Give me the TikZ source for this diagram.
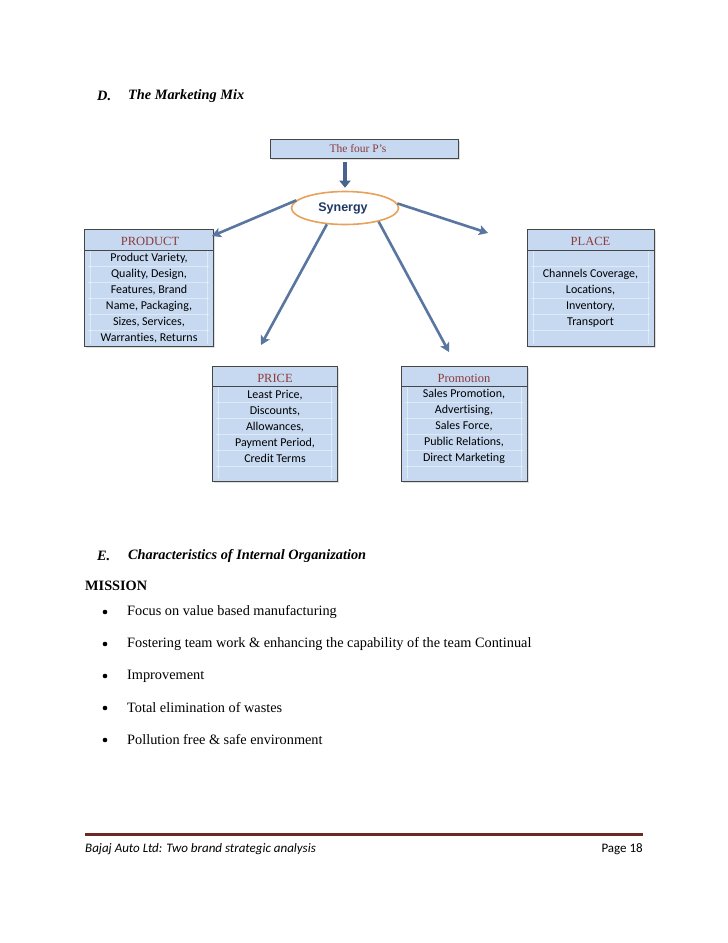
\documentclass[tikz,border=0pt]{standalone}
\usepackage{fontspec}
\setmainfont{Liberation Serif}
\newfontfamily\calibf[Ligatures=NoCommon]{Carlito}
\newfontfamily\arialf{Liberation Sans}
\usetikzlibrary{arrows.meta,shapes.geometric,shadows}
\definecolor{boxblue}{RGB}{198,217,241}
\definecolor{boxline}{RGB}{70,70,70}
\definecolor{headred}{RGB}{140,58,58}
\definecolor{arrowblue}{RGB}{88,118,160}
\definecolor{darkarrow}{RGB}{72,100,140}
\definecolor{synorange}{RGB}{232,160,90}
\definecolor{synblue}{RGB}{31,56,100}
\definecolor{footred}{RGB}{110,40,38}
\tikzset{
  pbox/.style={draw=boxline, fill=boxblue, line width=0.8pt, inner sep=0pt,
    drop shadow={shadow xshift=1.5pt, shadow yshift=-1.5pt, opacity=0.25}},
  rowline/.style={draw=white, line width=0.5pt, opacity=0.45},
  headtxt/.style={inner sep=0pt, text=headred, font=\fontsize{12.5}{14}\selectfont},
  bodytxt/.style={inner sep=0pt, font=\calibf\fontsize{12}{16}\selectfont, align=center},
  spoke/.style={draw=arrowblue, line width=2.6pt, -{Stealth[length=9pt,width=10pt,inset=2pt]}},
  heading/.style={inner sep=0pt, anchor=west, font=\bfseries\itshape\fontsize{14.3}{17}\selectfont},
  plaintxt/.style={inner sep=0pt, anchor=west, font=\fontsize{14.3}{17}\selectfont},
  bulletdot/.style={circle, fill=black, inner sep=0pt, minimum size=4.6pt},
}
\begin{document}
\begin{tikzpicture}[x=1pt,y=-1pt]
\useasboundingbox[fill=white] (0,0) rectangle (728,943);

% Section D heading
\node[heading] (dlab) at (97,96) {D.};
\node[heading] (dtitle) at (128,96) {The Marketing Mix};

% The four P's
\node[pbox, minimum width=188pt, minimum height=19pt] (fourp) at (364,148.5) {};
\node[headtxt, font=\fontsize{11.5}{13}\selectfont] (fourptxt) at (358,149) {The four P's};

% Synergy ellipse
\node[ellipse, draw=synorange, line width=1.6pt, fill=white, minimum width=107pt, minimum height=33pt, inner sep=0pt] (syn) at (345,208) {};
\node[inner sep=0pt, text=synblue, font=\arialf\bfseries\fontsize{12.5}{14}\selectfont] (syntxt) at (343,208) {Synergy};

\draw[draw=darkarrow, line width=4pt, -{Triangle[length=7pt,width=11pt]}, shorten <=4pt, shorten >=3pt] (fourp.south -| syn.north) -- (syn.north);

% PRODUCT box
\node[pbox, minimum width=129pt, minimum height=117pt] (product) at (148.5,287.5) {};
\foreach \yy in {266,282,298,314,330} \draw[rowline] (88,\yy) -- (209,\yy);
\draw[rowline] (90,251) -- (90,344); \draw[rowline] (207,251) -- (207,344);
\draw[boxline, line width=0.6pt] (84,250) -- (213,250);
\node[headtxt] (producth) at (150,241) {PRODUCT};
\node[bodytxt] (productb) at (149,298) {Product Variety,\\Quality, Design,\\Features, Brand\\Name, Packaging,\\Sizes, Services,\\Warranties, Returns};

% PLACE box
\node[pbox, minimum width=127pt, minimum height=117pt] (place) at (590.5,287.5) {};
\foreach \yy in {266,282,298,314,330} \draw[rowline] (531,\yy) -- (650,\yy);
\draw[rowline] (533,251) -- (533,344); \draw[rowline] (648,251) -- (648,344);
\draw[boxline, line width=0.6pt] (527,250) -- (654,250);
\node[headtxt] (placeh) at (590.5,241) {PLACE};
\node[bodytxt] (placeb) at (590.5,298) {Channels Coverage,\\Locations,\\Inventory,\\Transport};

% PRICE box
\node[pbox, minimum width=125pt, minimum height=115pt] (price) at (274.5,423.5) {};
\foreach \yy in {402,418,434,450,466} \draw[rowline] (216,\yy) -- (333,\yy);
\draw[rowline] (218,387) -- (218,479); \draw[rowline] (331,387) -- (331,479);
\draw[boxline, line width=0.6pt] (212,386) -- (337,386);
\node[headtxt] (priceh) at (275,378) {PRICE};
\node[bodytxt] (priceb) at (275,426) {Least Price,\\Discounts,\\Allowances,\\Payment Period,\\Credit Terms};

% Promotion box
\node[pbox, minimum width=126pt, minimum height=115pt] (promo) at (464,423.5) {};
\foreach \yy in {402,418,434,450,466} \draw[rowline] (405,\yy) -- (523,\yy);
\draw[rowline] (407,387) -- (407,479); \draw[rowline] (521,387) -- (521,479);
\draw[boxline, line width=0.6pt] (401,386) -- (527,386);
\node[headtxt] (promoh) at (464,378) {Promotion};
\node[bodytxt] (promob) at (464,426) {Sales Promotion,\\Advertising,\\Sales Force,\\Public Relations,\\Direct Marketing};

% spokes
\coordinate (tprod) at (212,236);
\coordinate (tplace) at (488,233);
\coordinate (tprice) at (261,345);
\coordinate (tpromo) at (449,352);
\draw[spoke] (syn.171) -- (tprod);
\draw[spoke] (syn.5) -- (tplace);
\draw[spoke] (syn.222) -- (tprice);
\draw[spoke] (syn.-22) -- (tpromo);

% Section E
\node[heading] (elab) at (97,556) {E.};
\node[heading] (etitle) at (128,556) {Characteristics of Internal Organization};
\node[heading, font=\bfseries\fontsize{14.3}{17}\selectfont] (mission) at (85,586) {MISSION};

\node[bulletdot] (b1) at (105,612) {};
\node[plaintxt] (t1) at (127,612) {Focus on value based manufacturing};
\node[bulletdot] (b2) at (105,644) {};
\node[plaintxt] (t2) at (127,644) {Fostering team work \& enhancing the capability of the team Continual};
\node[bulletdot] (b3) at (105,676) {};
\node[plaintxt] (t3) at (127,676) {Improvement};
\node[bulletdot] (b4) at (105,708) {};
\node[plaintxt] (t4) at (127,708) {Total elimination of wastes};
\node[bulletdot] (b5) at (105,740) {};
\node[plaintxt] (t5) at (127,740) {Pollution free \& safe environment};

% footer
\draw[footred, line width=3pt] (85,834) -- (643,834);
\node[inner sep=0pt, anchor=west, font=\calibf\itshape\fontsize{13}{15}\selectfont] (footl) at (85,849) {Bajaj Auto Ltd: Two brand strategic analysis};
\node[inner sep=0pt, anchor=east, font=\calibf\fontsize{13}{15}\selectfont] (footr) at (643,849) {Page 18};
\end{tikzpicture}
\end{document}
